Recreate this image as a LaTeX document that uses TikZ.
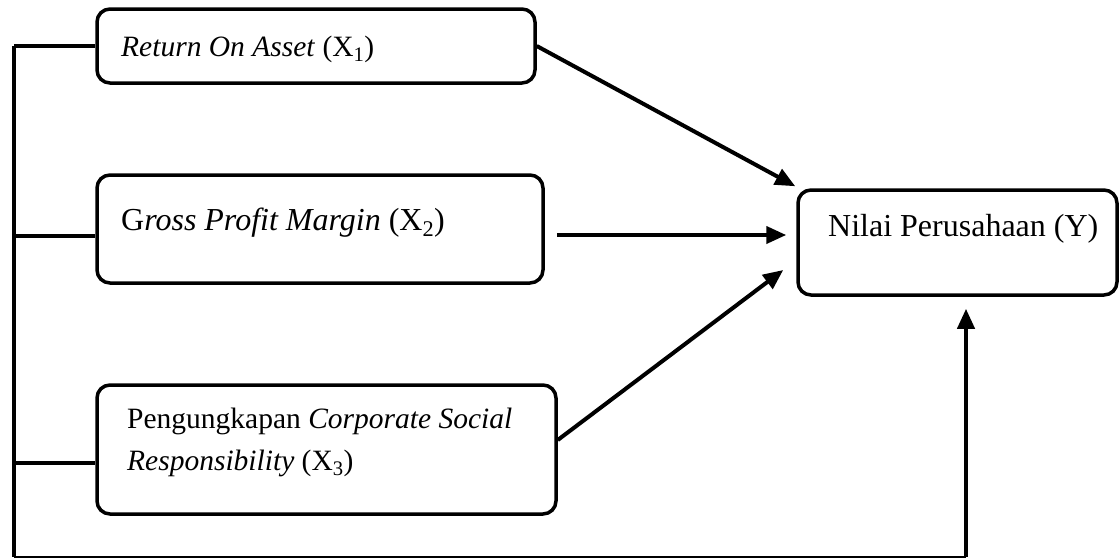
\documentclass[tikz,border=0pt]{standalone}
\usepackage{fontspec}
\setmainfont{Liberation Serif}
\usetikzlibrary{arrows.meta,calc}
\begin{document}
\begin{tikzpicture}[x=1pt,y=-1pt,
  boxst/.style={draw, line width=3.5pt, rounded corners=13pt, inner sep=0pt},
  lbl/.style={anchor=base west, inner sep=0pt, font=\fontsize{29.5}{42}\selectfont},
  lblbig/.style={lbl, font=\fontsize{32}{42}\selectfont},
  conn/.style={line width=4pt},
  thinconn/.style={line width=1.5pt},
  arr/.style={line width=4pt, -{Triangle[length=20pt,width=17pt]}}]
\useasboundingbox (0,0) rectangle (1120,558);
% boxes
\node[boxst, minimum width=438pt, minimum height=74pt] (x1) at (316,46) {};
\node[boxst, minimum width=446pt, minimum height=108pt] (x2) at (320,229) {};
\node[boxst, minimum width=459pt, minimum height=129pt] (x3) at (326.5,449.5) {};
\node[boxst, minimum width=319pt, minimum height=105pt] (y) at (957.5,242.5) {};
% texts
\node[lbl] (t1) at (121,56) {\textit{Return On Asset} (X\textsubscript{1})};
\node[lblbig] (t2) at (121,230) {G\textit{ross Profit Margin} (X\textsubscript{2})};
\node[lbl] (t3a) at (127,428) {Pengungkapan \textit{Corporate Social}};
\node[lbl] (t3b) at (127,470) {\textit{Responsibility} (X\textsubscript{3})};
\node[lblbig] (ty) at (828,236) {Nilai Perusahaan (Y)};
% bus
\coordinate (bt) at (14,46);
\coordinate (bb) at (14,557);
\coordinate (s2) at ($(x2.west)+(0,7)$);
\coordinate (s3) at ($(x3.west)+(0,13.5)$);
\coordinate (cr) at (966,557);
\draw[conn] (bt) -- (bb);
\draw[conn] (bt) -- (x1.west);
\draw[conn] (s2 -| bt) -- (s2);
\draw[conn] (s3 -| bt) -- (s3);
\draw[thinconn] (bb) -- (cr);
% arrows
\coordinate (a1s) at (x1.east);
\coordinate (a1e) at ($(y.north west)+(-1,-2)$);
\draw[arr] (a1s) -- (a1e);
\coordinate (a2s) at ($(x2.east)+(12,6)$);
\coordinate (a2e) at ($(y.west |- a2s)+(-10,0)$);
\draw[arr] (a2s) -- (a2e);
\coordinate (a3s) at ($(x3.east)+(0,-9.5)$);
\coordinate (a3e) at ($(y.west)+(-13,27.5)$);
\draw[arr] (a3s) -- (a3e);
\coordinate (a4e) at ($(y.south -| cr)+(0,12)$);
\draw[arr] (cr) -- (a4e);
\end{tikzpicture}
\end{document}
